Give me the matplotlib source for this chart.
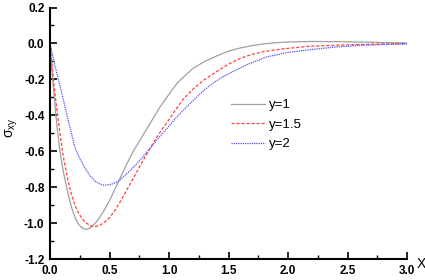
import matplotlib
matplotlib.use("Agg")
import matplotlib.pyplot as plt
import numpy as np

# Data
x_y1 = [0.0, 0.02, 0.04, 0.06, 0.08, 0.10, 0.12, 0.14, 0.16, 0.18, 0.20, 0.225, 0.25, 0.28, 0.305, 0.33, 0.36, 0.40,
        0.45, 0.50, 0.55, 0.60, 0.65, 0.70, 0.756, 0.80, 0.85, 0.90, 0.924, 1.0, 1.065, 1.1, 1.2, 1.3, 1.4, 1.5, 1.6,
        1.7, 1.8, 1.9, 2.0, 2.2, 2.4, 2.6, 2.8, 3.0]
s_y1 = [0.0, -0.18, -0.33, -0.47, -0.58, -0.67, -0.74, -0.80, -0.86, -0.91, -0.95, -0.99, -1.015, -1.03, -1.035, -1.03,
        -1.015, -0.985, -0.935, -0.875, -0.805, -0.735, -0.665, -0.60, -0.54, -0.49, -0.435, -0.38, -0.354, -0.283,
        -0.224, -0.20, -0.14, -0.10, -0.07, -0.043, -0.025, -0.012, -0.002, 0.004, 0.008, 0.011, 0.010, 0.008, 0.005,
        0.003]

x_y15 = [0.0, 0.02, 0.04, 0.06, 0.08, 0.10, 0.12, 0.15, 0.18, 0.21, 0.24, 0.27, 0.30, 0.34, 0.375, 0.41, 0.45, 0.50,
         0.55, 0.60, 0.65, 0.70, 0.75, 0.80, 0.84, 0.88, 0.94, 0.994, 1.065, 1.12, 1.2, 1.3, 1.4, 1.5, 1.6, 1.7, 1.8,
         1.96, 2.18, 2.4, 2.6, 2.8, 3.0]
s_y15 = [0.0, -0.14, -0.27, -0.38, -0.48, -0.58, -0.66, -0.76, -0.84, -0.90, -0.945, -0.975, -0.998, -1.015, -1.02,
         -1.015, -1.0, -0.97, -0.925, -0.87, -0.81, -0.75, -0.69, -0.63, -0.585, -0.54, -0.48, -0.43, -0.36, -0.31,
         -0.255, -0.20, -0.157, -0.115, -0.083, -0.06, -0.045, -0.03, -0.016, -0.01, -0.006, -0.003, -0.001]

x_y2 = [0.0, 0.04, 0.10, 0.15, 0.21, 0.25, 0.29, 0.33, 0.375, 0.42, 0.46, 0.51, 0.57, 0.63, 0.70, 0.77, 0.84, 0.92,
        1.0, 1.065, 1.13, 1.2, 1.27, 1.345, 1.44, 1.54, 1.65, 1.82, 2.0, 2.18, 2.4, 2.6, 2.8, 3.0]
s_y2 = [0.0, -0.12, -0.28, -0.42, -0.58, -0.64, -0.69, -0.73, -0.765, -0.783, -0.79, -0.785, -0.77, -0.735, -0.69,
        -0.64, -0.585, -0.52, -0.46, -0.41, -0.365, -0.32, -0.275, -0.233, -0.19, -0.156, -0.12, -0.075, -0.05,
        -0.035, -0.02, -0.011, -0.006, -0.003]

labels = ["y=1", "y=1.5", "y=2"]
x_ticks = [0.0, 0.5, 1.0, 1.5, 2.0, 2.5, 3.0]
y_ticks = [0.2, 0.0, -0.2, -0.4, -0.6, -0.8, -1.0, -1.2]

plt.rcParams['font.family'] = ['Liberation Sans', 'DejaVu Sans']
plt.rcParams['mathtext.default'] = 'regular'

fig = plt.figure(figsize=(4.25, 2.8), dpi=100)
ax = fig.add_axes([50/425, 1-259/280, (407-50)/425, (259-7.5)/280])

ax.plot(x_y1, s_y1, color='#a0a0a0', lw=0.9, ls='-', label=labels[0])
ax.plot(x_y15, s_y15, color='#ff4040', lw=0.9, ls=(0, (2.5, 1.5)), label=labels[1])
ax.plot(x_y2, s_y2, color='#5050ff', lw=0.9, ls=(0, (1, 0.8)), label=labels[2])

ax.set_xlim(0, 3.0)
ax.set_ylim(-1.2, 0.2)
ax.set_xticks(x_ticks)
ax.set_yticks(y_ticks)
ax.set_xticklabels([f"{v:.1f}" for v in x_ticks], fontsize=8.5, fontweight='bold')
ax.set_yticklabels([f"{v:.1f}" for v in y_ticks], fontsize=8.5, fontweight='bold')
ax.set_xticks(np.arange(0.25, 3.0, 0.5), minor=True)
ax.set_yticks(np.arange(-1.1, 0.2, 0.2), minor=True)
ax.tick_params(which='major', direction='in', length=5, width=1.2, pad=4)
ax.tick_params(which='minor', direction='in', length=3, width=1.0)
for s in ['top', 'right']:
    ax.spines[s].set_visible(False)
for s in ['left', 'bottom']:
    ax.spines[s].set_linewidth(1.5)

leg = ax.legend(loc='upper left', bbox_to_anchor=(231/425, 1-99/280), bbox_transform=fig.transFigure,
                frameon=False, fontsize=9.5, handlelength=2.6, handletextpad=0.3, labelspacing=0.55,
                borderpad=0, borderaxespad=0)

fig.text(421/425, 1-264/280, 'X', ha='center', va='center', fontsize=10)
fig.text(12/425, 1-128/280, r'$\sigma_{xy}$', ha='center', va='center', rotation=90, fontsize=10)

fig.savefig('out.png', dpi=100)
